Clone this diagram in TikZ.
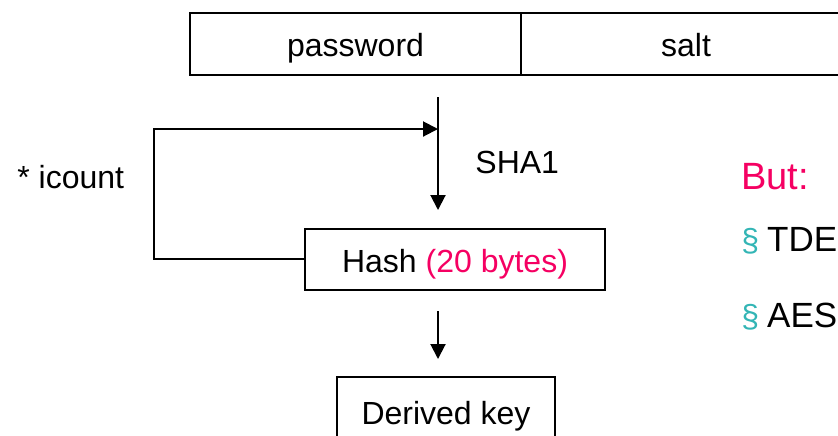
\documentclass[tikz,border=0pt]{standalone}
\usepackage{fontspec}
\setmainfont{Liberation Sans}
\usetikzlibrary{arrows.meta,positioning}
\usepackage{xcolor}
\definecolor{ink}{HTML}{000000}
\definecolor{hilite}{HTML}{F50062}
\definecolor{bullet}{HTML}{33B5B5}
\tikzset{
  >={Triangle[length=7.5pt,width=7.5pt]},
  every node/.style={font=\fontsize{16}{19}\selectfont,text=ink},
  box/.style={draw=ink,line width=1pt,minimum height=31pt,inner sep=0pt,align=center,
    text height=13pt,text depth=0pt},
  arrow/.style={->,line width=1pt,draw=ink},
  label/.style={inner sep=0pt,anchor=west},
  point/.style={label,font=\fontsize{17.5}{21}\selectfont},
}
\newcommand{\bul}{\textcolor{bullet}{\fontsize{16}{19}\selectfont§}\hspace{4pt}}

\begin{document}
\begin{tikzpicture}[x=0.5pt,y=-0.5pt]
  \useasboundingbox (0,0) rectangle (838,435);
  \clip (0,0) rectangle (838,435);
  \node[box,minimum width=165.5pt] (password) at (355.5,43.5) {password};
  \node[box,minimum width=165pt] (salt) at (686,43.5) {salt};
  \node[box,minimum width=150pt,minimum height=30.5pt] (hash) at (455,259) {Hash \textcolor{hilite}{(20 bytes)}};
  \node[box,minimum width=109pt,minimum height=34pt] (key) at (446,411) {Derived key};

  \coordinate (in) at (438,97);
  \coordinate (loop) at (438,129);
  \coordinate (sha) at (438,210);
  \coordinate (out) at (438,311);
  \coordinate (keyin) at (438,359);
  \draw[arrow] (in) -- (sha);
  \draw[arrow] (hash.west) -- ++(-150,0) |- (loop);
  \draw[arrow] (out) -- (keyin);

  \node[label] (shalbl) at (475,162) {SHA1};
  \node[label] (count) at (17,177) {* icount};

  \node[label,font=\fontsize{19}{22}\selectfont,text=hilite] (but) at (741,177) {But:};
  \node[point] (tdes) at (741,241) {\bul TDE};
  \node[point] (aes) at (741,317) {\bul AES};
\end{tikzpicture}
\end{document}
